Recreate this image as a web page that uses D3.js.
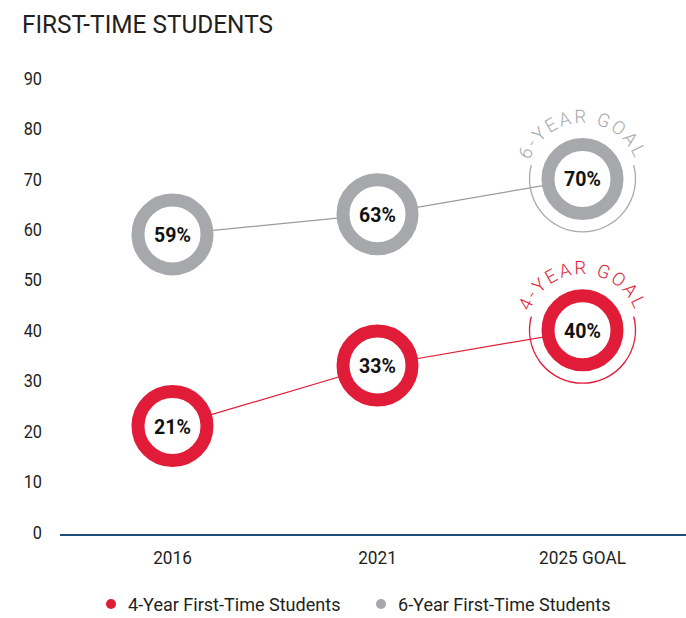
<!DOCTYPE html>
<html>
<head>
<meta charset="utf-8">
<script src="https://cdn.jsdelivr.net/npm/d3@7/dist/d3.min.js"></script>
<style>
  html, body { margin: 0; padding: 0; background: #fff; }
  svg { display: block; }
  text { font-family: Roboto, "Liberation Sans", sans-serif; }
</style>
</head>
<body>
<svg id="chart" width="686" height="618"></svg>
<script>
const title = "FIRST-TIME STUDENTS";
const categories = ["2016", "2021", "2025 GOAL"];
const fourYear = [21, 33, 40];
const sixYear = [59, 63, 70];
const yTicks = [0, 10, 20, 30, 40, 50, 60, 70, 80, 90];
const seriesNames = ["4-Year First-Time Students", "6-Year First-Time Students"];
const goalLabels = ["4-YEAR GOAL", "6-YEAR GOAL"];
const colors = ["#e11c38", "#a7a8ab"];
const lineColors = ["#e11c38", "#9a9b9e"];

const svg = d3.select("#chart");
const W = 686, H = 618;

const x = d3.scaleBand().domain(categories).range([70, 685]);
const y = d3.scaleLinear().domain([0, 90]).range([532, 78]);

function ctext(parent, px, py, txt, o) {
  const t = parent.append("text")
    .attr("transform", `translate(${px},${py}) scale(${o.sq || 0.93},1)`)
    .attr("font-size", o.size)
    .attr("fill", o.fill || "#231f20")
    .attr("text-anchor", o.anchor || "start")
    .attr("font-weight", o.weight || "normal")
    .text(txt);
  if (o.dy) t.attr("dy", o.dy);
  return t;
}

// Title
ctext(svg, 22, 33, title, { size: 26.5, sq: 0.92 });

// Y tick labels
const yg = svg.append("g");
yTicks.forEach(d => ctext(yg, 42, y(d), d, { size: 18.5, anchor: "end", dy: "0.36em", sq: 0.88 }));

// Baseline axis
svg.append("line").attr("x1", 60).attr("x2", W)
  .attr("y1", y(0) + 3).attr("y2", y(0) + 3)
  .attr("stroke", "#1f4d78").attr("stroke-width", 2);

// X labels
const xg = svg.append("g");
categories.forEach(c => ctext(xg, x(c) + x.bandwidth() / 2, 557, c, { size: 18.5, anchor: "middle", dy: "0.36em" }));

const series = [fourYear, sixYear];
const cx = i => x(categories[i]) + x.bandwidth() / 2;

series.forEach((vals, s) => {
  const pts = vals.map((v, i) => [cx(i), y(v)]);
  svg.append("path").attr("d", d3.line()(pts))
    .attr("fill", "none").attr("stroke", lineColors[s]).attr("stroke-width", 1.2);

  // goal decoration on last point
  const gi = vals.length - 1;
  const gx = cx(gi), gy = y(vals[gi]);
  const p = d3.path();
  const a0 = -15 * Math.PI / 180, a1 = 195 * Math.PI / 180;
  p.moveTo(gx + 53 * Math.cos(a0), gy + 53 * Math.sin(a0));
  p.arc(gx, gy, 53, a0, a1);
  svg.append("path").attr("d", p.toString())
    .attr("fill", "none").attr("stroke", colors[s]).attr("stroke-width", 1.3);

  const id = "goalArc" + s;
  const tp = d3.path();
  tp.moveTo(gx - 56, gy);
  tp.arc(gx, gy, 56, Math.PI, 2 * Math.PI);
  svg.append("defs").append("path").attr("id", id).attr("d", tp.toString());
  svg.append("text").attr("font-size", 18.5).attr("fill", colors[s])
    .attr("font-weight", 300).attr("letter-spacing", 2.4)
    .append("textPath").attr("href", "#" + id)
    .attr("startOffset", "50%").attr("text-anchor", "middle")
    .text(goalLabels[s]);

  // rings
  svg.append("g").selectAll("circle").data(vals).join("circle")
    .attr("cx", (d, i) => cx(i)).attr("cy", d => y(d)).attr("r", 34.5)
    .attr("fill", "#fff").attr("stroke", colors[s]).attr("stroke-width", 13);

  const lg = svg.append("g");
  vals.forEach((d, i) => ctext(lg, cx(i), y(d), d + "%", { size: 21, anchor: "middle", weight: "bold", fill: "#111", dy: "0.36em" }));
});

// Legend
const legX = [111, 381];
seriesNames.forEach((name, i) => {
  const g = svg.append("g").attr("transform", `translate(${legX[i]},604)`);
  g.append("circle").attr("r", 5).attr("fill", colors[i]);
  ctext(g, 17, 0, name, { size: 19, dy: "0.36em", sq: 0.95 });
});
</script>
</body>
</html>
